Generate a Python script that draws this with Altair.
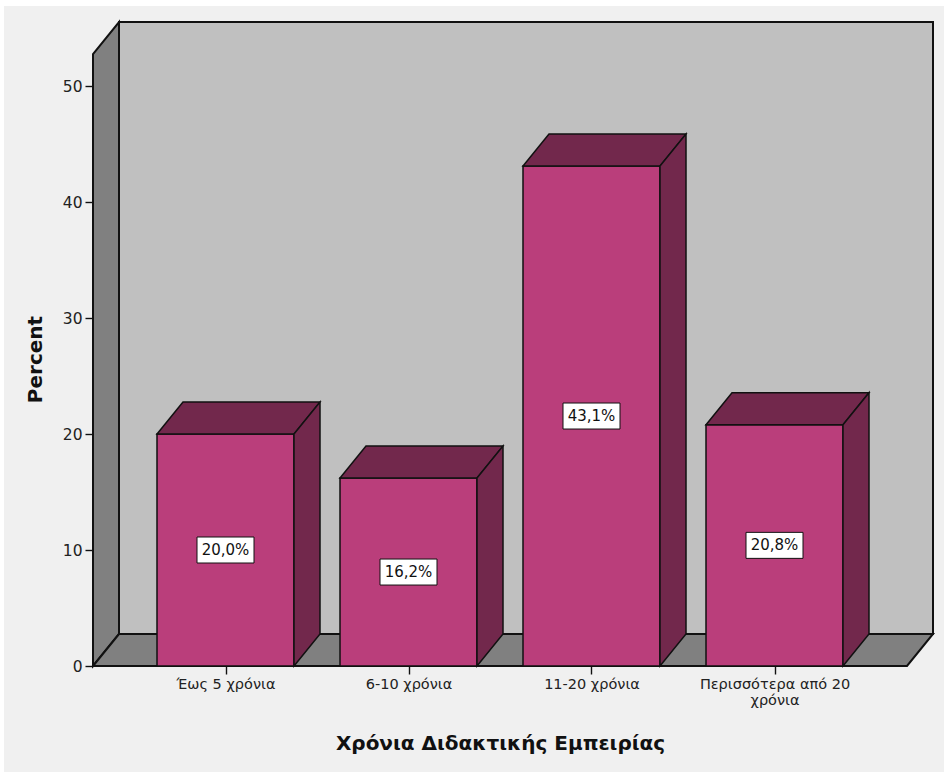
import json
import altair as alt
import pandas as pd

# ---------------- data ----------------
categories = ["Έως 5 χρόνια", "6-10 χρόνια", "11-20 χρόνια", "Περισσότερα από 20\nχρόνια"]
percents = [20.0, 16.2, 43.1, 20.8]
value_labels = ["20,0%", "16,2%", "43,1%", "20,8%"]
y_ticks = [0, 10, 20, 30, 40, 50]
x_title = "Χρόνια Διδακτικής Εμπειρίας"
y_title = "Percent"

# ---------------- style / geometry ----------------
FONT = "DejaVu Sans"
PX_PER_CAT = 183.0      # pixels per category step
PX_PER_PCT = 11.6       # pixels per percent
PLOT_W, PLOT_H = 841, 644
PAD_L, PAD_T = 93, 22
CENTER0_PX = 132.5      # pixel offset of first category centre from plot left

X_MIN = -CENTER0_PX / PX_PER_CAT
X_MAX = (PLOT_W - CENTER0_PX) / PX_PER_CAT
Y_MAX = PLOT_H / PX_PER_PCT
DX = 26 / PX_PER_CAT          # depth offset (x)
DY = 32 / PX_PER_PCT          # depth offset (y)
HALF = 68.5 / PX_PER_CAT      # half bar width
WALL_L = X_MIN
WALL_R = (PLOT_W - 1 - CENTER0_PX) / PX_PER_CAT
BOX_HW = 28.5 / PX_PER_CAT
BOX_HH = 13 / PX_PER_PCT

FRONT = "#BA3E7B"
DARK = "#72284C"
BACK = "#C0C0C0"
WALL = "#808080"
LINE = "#111111"

xs = alt.Scale(domain=[X_MIN, X_MAX], nice=False, zero=False)
ys = alt.Scale(domain=[0, Y_MAX], nice=False, zero=False)

label_expr = "split(" + json.dumps(categories, ensure_ascii=False) + "[round(datum.value)], '\\n')"

X_AXIS = alt.Axis(values=list(range(len(categories))), labelExpr=label_expr, domain=False,
                  grid=False, tickSize=8, tickColor=LINE, tickWidth=1.4, zindex=1,
                  labelFont=FONT, labelFontSize=14.5, labelColor="#222", labelPadding=3,
                  labelBaseline="top", labelLineHeight=16, labelOverlap=False, labelFlush=False,
                  labelBound=False,
                  titleFont=FONT, titleFontSize=20, titleFontWeight="bold", titleColor="#111",
                  titleX=407, titleY=77, titleAlign="center", titleBaseline="middle")
Y_AXIS = alt.Axis(values=y_ticks, domain=False, grid=False, tickSize=8, tickColor=LINE,
                  tickWidth=1.4, zindex=1, labelFont=FONT, labelFontSize=15.5, labelColor="#222",
                  labelPadding=3,
                  titleFont=FONT, titleFontSize=20, titleFontWeight="bold", titleColor="#111",
                  titleX=-58, titleY=337, titleAngle=270, titleAlign="center",
                  titleBaseline="middle")

XE = alt.X("x:Q", scale=xs, title=x_title, axis=X_AXIS)
YE = alt.Y("y:Q", scale=ys, title=y_title, axis=Y_AXIS)

# ---------------- frame ----------------
bg = alt.Chart(pd.DataFrame({"a": [0]})).mark_rect(fill="#F0F0F0").encode(
    x=alt.value(-PAD_L + 4), x2=alt.value(944 - PAD_L), y=alt.value(-PAD_T + 6), y2=alt.value(772 - PAD_T)
)

back_df = pd.DataFrame({"x": [WALL_L + DX], "x2": [WALL_R], "y": [DY], "y2": [Y_MAX]})
back = alt.Chart(back_df).mark_rect(fill=BACK, stroke=LINE, strokeWidth=2).encode(
    x=XE, x2="x2:Q", y=YE, y2="y2:Q",
)

# walls/floor as parallelograms (vertical area polygons)
rows = []
def add(face, fill, pts):
    for (x, y, y2) in pts:
        rows.append({"face": face, "fill": fill, "x": x, "y": y, "y2": y2})

add("leftwall", WALL, [(WALL_L, 0, Y_MAX - DY), (WALL_L + DX, DY, Y_MAX)])
add("floor", WALL, [(WALL_L, 0, 0), (WALL_L + DX, 0, DY), (WALL_R - DX, 0, DY), (WALL_R, DY, DY)])
walls_df = pd.DataFrame(rows)

walls = alt.Chart(walls_df).mark_area(stroke=LINE, strokeWidth=2, interpolate="linear").encode(
    x=XE, y=YE, y2="y2:Q",
    detail="face:N",
    fill=alt.Fill("fill:N", scale=None),
)

# ---------------- bars ----------------
front_df = pd.DataFrame({
    "x": [i - HALF for i in range(len(percents))],
    "x2": [i + HALF for i in range(len(percents))],
    "y": [0.0] * len(percents),
    "y2": percents,
})
front = alt.Chart(front_df).mark_rect(fill=FRONT, stroke=LINE, strokeWidth=1.5).encode(
    x=XE, x2="x2:Q", y=YE, y2="y2:Q",
)

rows = []
for i, v in enumerate(percents):
    add(f"top{i}", DARK, [(i - HALF, v, v), (i - HALF + DX, v, v + DY),
                          (i + HALF, v, v + DY), (i + HALF + DX, v + DY, v + DY)])
    add(f"side{i}", DARK, [(i + HALF, 0, v), (i + HALF + DX, DY, v + DY)])
faces_df = pd.DataFrame(rows)

faces = alt.Chart(faces_df).mark_area(stroke=LINE, strokeWidth=1.5, interpolate="linear").encode(
    x=XE, y=YE, y2="y2:Q",
    detail="face:N",
    fill=alt.Fill("fill:N", scale=None),
)

# ---------------- value labels ----------------
mids = [v / 2 for v in percents]
box_df = pd.DataFrame({
    "x": [i - BOX_HW for i in range(len(percents))],
    "x2": [i + BOX_HW for i in range(len(percents))],
    "y": [m - BOX_HH for m in mids],
    "y2": [m + BOX_HH for m in mids],
})
boxes = alt.Chart(box_df).mark_rect(fill="white", stroke="#111", strokeWidth=1).encode(
    x=XE, x2="x2:Q", y=YE, y2="y2:Q",
)
txt_df = pd.DataFrame({"x": list(range(len(percents))), "y": mids, "lab": value_labels})
texts = alt.Chart(txt_df).mark_text(font=FONT, fontSize=15, color="#111", baseline="middle",
                                    align="center").encode(
    x=XE, y=YE, text="lab:N",
)

chart = alt.layer(bg, back, walls, front, faces, boxes, texts).properties(
    width=PLOT_W, height=PLOT_H,
    autosize=alt.AutoSizeParams(type="none"),
    padding={"left": PAD_L, "top": PAD_T, "right": 944 - PAD_L - PLOT_W, "bottom": 772 - PAD_T - PLOT_H},
    background="white",
).configure_view(stroke=None)

chart.save("out.html", embed_options={"renderer": "svg", "actions": False})
